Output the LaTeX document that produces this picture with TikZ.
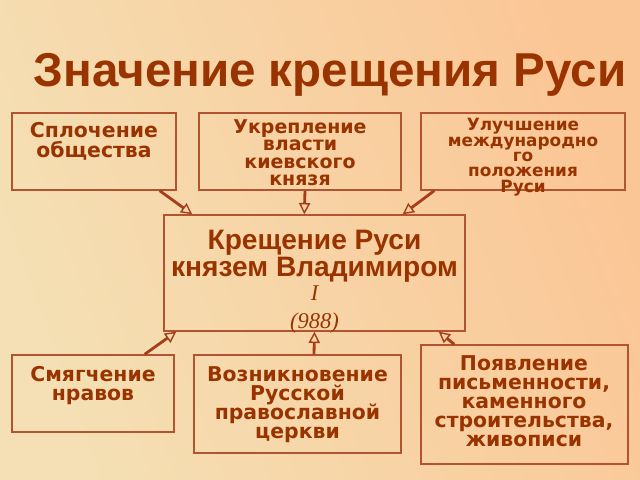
\documentclass[tikz,border=0pt]{standalone}
\usepackage{fontspec}
\setmainfont{DejaVu Sans}
\newfontfamily\ttlfont{Liberation Sans}
\newfontfamily\yrfont{Liberation Serif}
\usetikzlibrary{arrows.meta,fit,calc}

\definecolor{bgleft}{RGB}{244,224,180}
\definecolor{bgright}{RGB}{251,198,150}
\definecolor{brn}{RGB}{153,51,0}
\definecolor{boxln}{RGB}{178,84,50}
\definecolor{arrln}{RGB}{165,62,25}

\newcommand{\boxtxt}{\fontsize{14.5}{13.5}\selectfont\bfseries\lineskiplimit=-30pt\lineskip=0pt}
\newcommand{\smalltxt}{\fontsize{12}{11}\selectfont\bfseries\lineskiplimit=-30pt\lineskip=0pt}
\newcommand{\ctrtxt}{\ttlfont\bfseries\fontsize{20}{19}\selectfont\lineskiplimit=-30pt\lineskip=0pt}

\begin{document}
\begin{tikzpicture}[x=0.025cm, y=-0.025cm,
  box/.style={draw=boxln, line width=1pt, inner sep=0pt},
  txt/.style={text=brn, font=\boxtxt, align=center, anchor=north, inner sep=0pt},
  arr/.style={draw=arrln, line width=2pt, -{Triangle[open, length=8pt, width=8pt, line width=1pt]}}]
\useasboundingbox (0,0) rectangle (640,480);
\shade[left color=bgleft, right color=bgright, shading angle=110] (0,0) rectangle (640,480);

\node[text=brn, font=\ttlfont\bfseries\fontsize{33.8}{40}\selectfont, anchor=base] (title) at (330,86) {Значение крещения Руси};

% top row
\node[box, fit={(12,113) (176,190)}] (splo) {};
\node[txt] (splo-t) at (94,122) {Сплочение\\[1pt]общества};
\node[box, fit={(199,113) (401,190)}] (ukr) {};
\node[txt, font=\fontsize{13.5}{12.5}\selectfont\bfseries] (ukr-t) at (300,119) {Укрепление\\власти\\киевского\\князя};
\node[box, fit={(421,113) (625,190)}] (ulu) {};
\node[txt, font=\smalltxt] (ulu-t) at (523,118) {Улучшение\\международно\\го\\положения\\Руси};

% centre
\node[box, fit={(164,215) (465,331)}] (krest) {};
\node[txt, font=\ctrtxt] (krest-t) at (314.5,230) {Крещение Руси\\князем Владимиром\\[-2pt]{\yrfont\mdseries\itshape\fontsize{16}{16.5}\selectfont I}\\[1pt]{\yrfont\mdseries\itshape\fontsize{16}{16.5}\selectfont (988)}};

% bottom row
\node[box, fit={(12,355) (174,432)}] (smya) {};
\node[txt] (smya-t) at (93,366) {Смягчение\\нравов};
\node[box, fit={(194,355) (401,453)}] (vozn) {};
\node[txt] (vozn-t) at (297.5,366) {Возникновение\\Русской\\православной\\церкви};
\node[box, fit={(421,345) (628,464)}] (poya) {};
\node[txt] (poya-t) at (524,355) {Появление\\письменности,\\каменного\\строительства,\\живописи};

\draw[arr] ($(splo.south east)+(-17,0)$) -- ($(krest.north west)+(29,0)$);
\draw[arr] ($(ukr.south)+(5,0)$) -- ($(krest.north west)+(141,0)$);
\draw[arr] ($(ulu.south west)+(14,0)$) -- ($(krest.north east)+(-63,0)$);
\draw[arr] ($(smya.north east)+(-30,0)$) -- ($(krest.south west)+(13,0)$);
\draw[arr] ($(vozn.north)+(16.5,0)$) -- (krest.south);
\draw[arr] ($(poya.north west)+(34,0)$) -- ($(krest.south east)+(-27,0)$);
\end{tikzpicture}
\end{document}
